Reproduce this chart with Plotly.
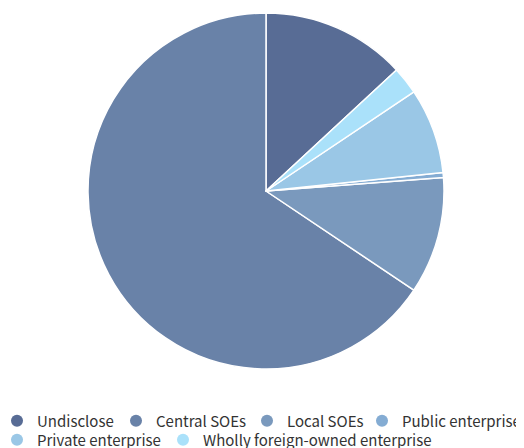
import plotly.graph_objects as go

categories = ["Undisclose", "Central SOEs", "Local SOEs", "Public enterprise",
              "Private enterprise", "Wholly foreign-owned enterprise"]
values = [13.1, 65.6, 10.6, 0.45, 7.75, 2.5]
colors = ["#586c95", "#6982a8", "#7a99bd", "#84acd3", "#9ac7e6", "#aae1fa"]

W, H = 524, 448
OFF = 8  # page offset of the figure inside the window
# legend entry layout (text start x in window px, row)
text_x = [37, 156, 287, 402, 37, 203]
rows = [0, 0, 0, 0, 1, 1]
row_center = [420, 439]

fig = go.Figure()
cx, cy, r = 266 - OFF, 191 - OFF, 178
fig.add_trace(go.Pie(
    labels=categories, values=values, sort=False,
    direction="counterclockwise", rotation=0,
    marker=dict(colors=colors, line=dict(color="white", width=1.5)),
    textinfo="none", hoverinfo="label+percent", showlegend=False,
    domain=dict(x=[(cx - r) / W, (cx + r) / W],
                y=[(H - (cy + r)) / H, (H - (cy - r)) / H]),
))

legend_font = dict(family="Noto Sans CJK SC", size=15, color="#333")
legends = {}
for i, (c, col) in enumerate(zip(categories, colors)):
    lg = "legend" if i == 0 else f"legend{i + 1}"
    fig.add_trace(go.Scatter(
        x=[None], y=[None], mode="markers", name=c, legend=lg,
        marker=dict(color=col, size=12, symbol="circle"),
    ))
    top = row_center[rows[i]] - OFF - 15.5
    legends[lg] = dict(
        orientation="h", xanchor="left", yanchor="top",
        x=(text_x[i] - OFF - 40) / W, y=(H - top) / H,
        itemwidth=30, font=legend_font, bgcolor="rgba(0,0,0,0)",
    )

fig.update_layout(
    width=W, height=H,
    margin=dict(l=0, r=0, t=0, b=0, autoexpand=False),
    paper_bgcolor="white", plot_bgcolor="white",
    xaxis=dict(visible=False), yaxis=dict(visible=False),
    font=dict(family="Noto Sans CJK SC", size=15, color="#333"),
    **legends,
)
fig.write_html("out.html")
